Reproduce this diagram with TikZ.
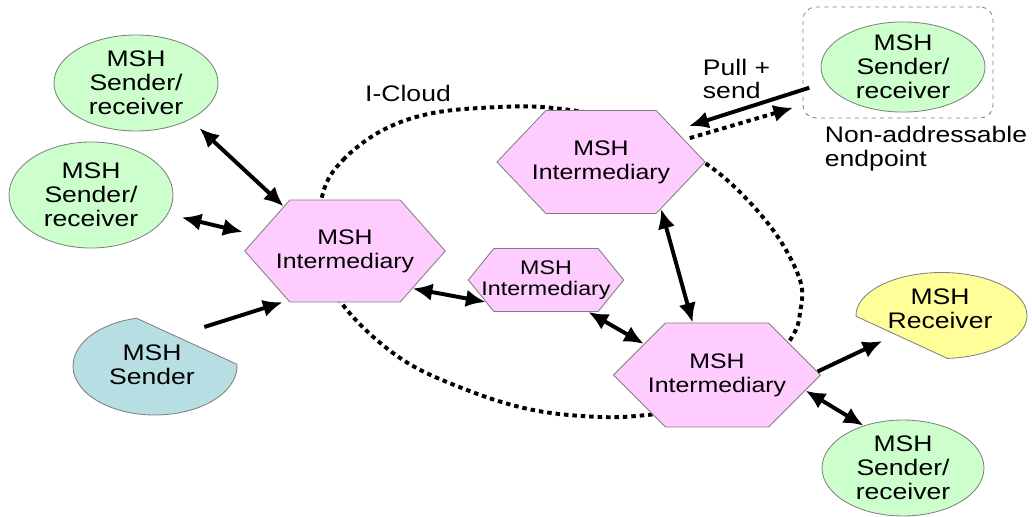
\documentclass[tikz,border=0pt]{standalone}
\usepackage{fontspec}
\setmainfont{Liberation Sans}[FakeStretch=1.18]
\usetikzlibrary{arrows.meta,shapes.geometric,shapes.symbols}

\definecolor{srgreen}{RGB}{204,255,204}
\definecolor{hexpink}{RGB}{255,204,255}
\definecolor{sendblue}{RGB}{183,222,226}
\definecolor{rcvyellow}{RGB}{255,255,153}
\definecolor{edgegray}{RGB}{128,128,128}

\begin{document}
\begin{tikzpicture}[>={Latex[length=14pt,width=12.5pt]},
	every node/.style={font=\fontsize{16}{17}\selectfont, align=center},
	endpoint/.style={ellipse, draw=edgegray, line width=0.6pt, fill=srgreen, inner sep=0pt},
	msh/.style={signal, signal to=east and west, draw=edgegray, line width=0.6pt, fill=hexpink,
		inner ysep=0pt, font=\fontsize{15}{17}\selectfont},
	link/.style={<->, line width=2.8pt},
	push/.style={->, line width=2.8pt},
	dots/.style={line width=2.8pt, dash pattern=on 3.2pt off 2.8pt}]

\useasboundingbox (0,0) rectangle (25.8,12.9);

% the cloud
\draw[dots] plot[smooth cycle, tension=0.6] coordinates {
	(8.075,8.075) (8.575,8.9) (9.575,9.65) (10.825,10.075) (12.5,10.225)
	(13.825,10.2) (15.5,9.9) (17.0,9.2) (18.175,8.4) (19.325,7.15)
	(20,5.9) (20,5.075) (19.8,4.475) (19.0,3.4) (17.5,2.7) (16.175,2.525)
	(15.0,2.475) (13.325,2.65) (11.675,3.15) (10.0,3.95) (8.575,5.275) (7.95,6.65)};
\node (icloud) at (10.2,10.575) {I-Cloud};

% endpoints on the left
\node[endpoint, minimum width=4.1cm, minimum height=2.4cm] (sra) at (3.4,10.825) {MSH\\Sender/\\receiver};
\node[endpoint, minimum width=4.1cm, minimum height=2.65cm] (srb) at (2.275,8.025) {MSH\\Sender/\\receiver};
\filldraw[fill=sendblue, draw=edgegray, line width=0.6pt]
	(3.414,4.944) arc[start angle=103, end angle=362, x radius=2.05cm, y radius=1.225cm] -- cycle;
\node[ellipse, minimum width=4.1cm, minimum height=2.45cm] (snd) at (3.8,3.775) {MSH\\Sender};

% intermediaries
\node[msh, minimum height=2.55cm, inner xsep=-0.35cm, signal pointer angle=97] (hexa) at (8.625,6.625) {MSH\\Intermediary};
\node[msh, minimum height=2.575cm, inner xsep=-0.35cm, signal pointer angle=93] (hexb) at (15.025,8.85) {MSH\\Intermediary};
\node[msh, minimum height=1.575cm, inner xsep=-0.31cm, signal pointer angle=102,
	font=\fontsize{14}{15}\selectfont] (hexs) at (13.65,5.9) {MSH\\Intermediary};
\node[msh, minimum height=2.6cm, inner xsep=-0.44cm, signal pointer angle=90] (hexc) at (17.925,3.525) {MSH\\Intermediary};

% endpoints on the right
\filldraw[fill=rcvyellow, draw=edgegray, line width=0.6pt]
	(23.687,3.940) arc[start angle=-86, end angle=181, x radius=2.1375cm, y radius=1.075cm] -- cycle;
\node[ellipse, minimum width=4.275cm, minimum height=2.15cm] (rcv) at (23.5,5.175) {MSH\\Receiver};
\node[endpoint, minimum width=4.05cm, minimum height=2.4cm] (srd) at (22.575,1.2) {MSH\\Sender/\\receiver};

\node[draw=edgegray, dashed, rounded corners=9pt, line width=0.6pt,
	minimum width=4.75cm, minimum height=2.775cm] (nae) at (22.45,11.3375) {};
\node[endpoint, minimum width=4.1cm, minimum height=2.15cm] (src) at (22.575,11.225) {MSH\\Sender/\\receiver};
\node[anchor=west, align=left] (pull) at (17.45,10.925) {Pull +\\send};
\node[anchor=west, align=left] (nonaddr) at (20.5,9.175) {Non-addressable\\endpoint};

% connectors
\draw[link, shorten <=9pt] (sra.-34) -- (hexa.144);
\draw[link, shorten <=10pt, shorten >=11pt] (srb.-14) -- (hexa.170);
\draw[push, shorten >=4pt] (snd.36) -- (hexa.221);
\draw[link] (hexa.-29) -- (hexs.200);
\draw[link] (hexs.-37) -- (hexc.157);
\draw[link] (hexb.-38) -- (hexc.115);
\draw[push] (hexc.2) -- (rcv.209);
\draw[link] (hexc.-10) -- (srd.133);
\draw[push, shorten <=-5pt, shorten >=10pt] (nae.196) -- (hexb.23);
\draw[push, dots, shorten <=4pt, shorten >=7pt] (hexb.15) -- (nae.204);

\end{tikzpicture}
\end{document}
